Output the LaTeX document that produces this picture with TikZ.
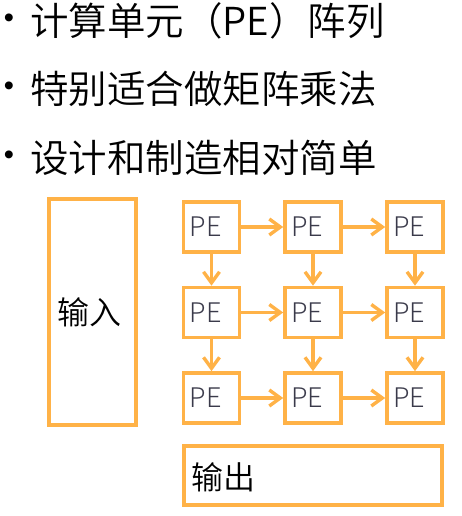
\documentclass[tikz,border=0pt]{standalone}
\usepackage{fontspec}
\setmainfont{Noto Sans CJK SC}[UprightFont={* DemiLight}]
\newfontfamily\pefont{Noto Sans CJK SC}[UprightFont={* Light}]
\newfontfamily\bulletfont{Liberation Sans}
\usetikzlibrary{arrows.meta}
\definecolor{pborange}{RGB}{255,178,71}
\definecolor{petext}{RGB}{58,58,74}
\tikzset{
  box/.style={draw=pborange, line width=3.6pt, inner sep=0pt},
  pebox/.style={box, minimum width=56pt, minimum height=50pt, text width=44pt, inner xsep=6pt, align=left,
     font=\pefont\fontsize{27}{27}\selectfont, text=petext},
  flow/.style={draw=pborange, line width=3.4pt, -{Straight Barb[length=11pt,width=16pt]}},
  bullettext/.style={anchor=west, inner sep=0pt, font=\fontsize{38.5}{40}\selectfont},
  bulletmark/.style={inner sep=0pt, font=\bulletfont\fontsize{29}{29}\selectfont},
  bigtext/.style={inner sep=0pt, font=\fontsize{32}{32}\selectfont}
}
\begin{document}
\begin{tikzpicture}[x=1pt,y=-1pt]
\useasboundingbox (0,0) rectangle (462,516);
% bullet list
\node[bulletmark] (b1) at (9,21) {•};
\node[bulletmark] (b2) at (9,89) {•};
\node[bulletmark] (b3) at (9,158) {•};
\node[bullettext] (t1) at (30,21) {计算单元（PE）阵列};
\node[bullettext] (t2) at (30,89) {特别适合做矩阵乘法};
\node[bullettext] (t3) at (30,158) {设计和制造相对简单};
% input box
\node[box, minimum width=87.5pt, minimum height=226.5pt] (in) at (92.5,312) {};
\node[bigtext] (intext) at (89,312) {输入};
% PE grid
\foreach \c/\x in {1/211.5,2/313,3/415}{
  \foreach \r/\y in {1/227,2/312.5,3/398}{
    \node[pebox] (p\r\c) at (\x,\y) {PE};
  }
}
\foreach \r in {1,2,3}{
  \draw[flow] (p\r1.east) -- (p\r2.west);
  \draw[flow] (p\r2.east) -- (p\r3.west);
}
\foreach \c in {1,2,3}{
  \draw[flow] (p1\c.south) -- (p2\c.north);
  \draw[flow] (p2\c.south) -- (p3\c.north);
}
% output box
\node[box, minimum width=258.5pt, minimum height=59.5pt] (out) at (313,475.5) {};
\node[bigtext, anchor=west] (outtext) at (191,477) {输出};
\end{tikzpicture}
\end{document}
